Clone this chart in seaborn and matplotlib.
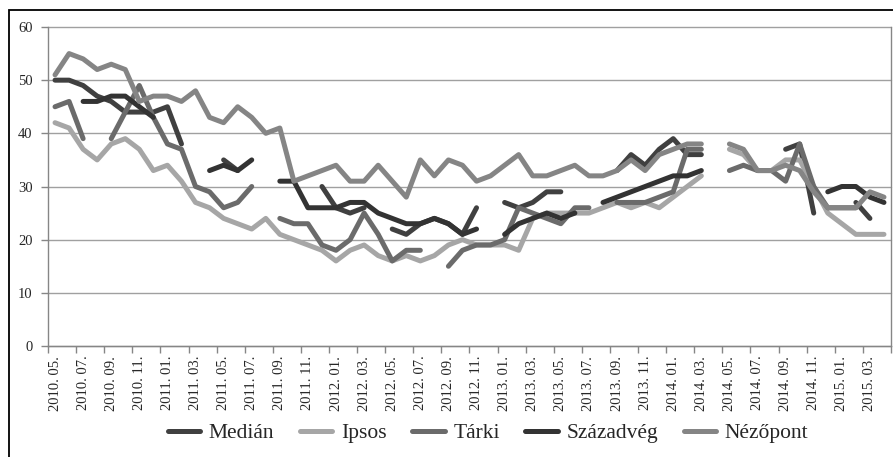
import numpy as np
import pandas as pd
import matplotlib
matplotlib.use("Agg")
import matplotlib.pyplot as plt
from matplotlib.lines import Line2D
from matplotlib.patches import Rectangle
import seaborn as sns

nan = np.nan

# monthly polls, 2010.05 .. 2015.04 (60 months), gaps = no poll
series_names = ["Medián", "Ipsos", "Tárki", "Századvég", "Nézőpont"]
series_colors = ["#404040", "#a6a6a6", "#6b6b6b", "#333333", "#858585"]

median = [50, 50, 49, 47, 46, 44, 44, 44, 45, 38,
          nan, nan, 35, 33, nan, nan, nan, nan, nan, 30,
          26, 25, 26, nan, 22, 21, 23, 24, 23, 21,
          26, nan, 27, 26, 27, 29, 29, nan, nan, nan,
          33, 36, 34, 37, 39, 36, 36, nan, nan, nan,
          nan, nan, 37, 38, 25, nan, nan, 27, 24, nan]
ipsos = [42, 41, 37, 35, 38, 39, 37, 33, 34, 31,
         27, 26, 24, 23, 22, 24, 21, 20, 19, 18,
         16, 18, 19, 17, 16, 17, 16, 17, 19, 20,
         19, 19, 19, 18, 24, 25, 25, 25, 25, 26,
         27, 26, 27, 26, 28, 30, 32, nan, 37, 36,
         33, 33, 35, 35, 30, 25, 23, 21, 21, 21]
tarki = [45, 46, 39, nan, 39, 44, 49, 43, 38, 37,
         30, 29, 26, 27, 30, nan, 24, 23, 23, 19,
         18, 20, 25, 21, 16, 18, 18, nan, 15, 18,
         19, 19, 20, 26, 25, 24, 23, 26, 26, nan,
         27, 27, 27, 28, 29, 37, 37, nan, 33, 34,
         33, 33, 31, 38, 30, 26, 26, 26, nan, nan]
szazadveg = [nan, nan, 46, 46, 47, 47, 45, 43, nan, nan,
             nan, 33, 34, 33, 35, nan, 31, 31, 26, 26,
             26, 27, 27, 25, 24, 23, 23, 24, 23, 21,
             22, nan, 21, 23, 24, 25, 24, 25, nan, 27,
             28, 29, 30, 31, 32, 32, 33, nan, nan, nan,
             nan, nan, nan, nan, nan, 29, 30, 30, 28, 27]
nezopont = [51, 55, 54, 52, 53, 52, 46, 47, 47, 46,
            48, 43, 42, 45, 43, 40, 41, 31, 32, 33,
            34, 31, 31, 34, 31, 28, 35, 32, 35, 34,
            31, 32, 34, 36, 32, 32, 33, 34, 32, 32,
            33, 35, 33, 36, 37, 38, 38, nan, 38, 37,
            33, 33, 34, 33, 29, 26, 26, 26, 29, 28]

tick_labels = ["2010. 05.", "2010. 07.", "2010. 09.", "2010. 11.",
               "2011. 01.", "2011. 03.", "2011. 05.", "2011. 07.", "2011. 09.", "2011. 11.",
               "2012. 01.", "2012. 03.", "2012. 05.", "2012. 07.", "2012. 09.", "2012. 11.",
               "2013. 01.", "2013. 03.", "2013. 05.", "2013. 07.", "2013. 09.", "2013. 11.",
               "2014. 01.", "2014. 03.", "2014. 05.", "2014. 07.", "2014. 09.", "2014. 11.",
               "2015. 01.", "2015. 03."]

# long table, one unit per unbroken stretch so gaps stay open
frames = []
for name, vals in zip(series_names, [median, ipsos, tarki, szazadveg, nezopont]):
    s = pd.Series(vals, dtype=float)
    seg = s.isna().cumsum().astype(str)
    frames.append(pd.DataFrame({"month": np.arange(len(s)), "value": s,
                                "series": name, "seg": name + "_" + seg}))
df = pd.concat(frames).dropna()

sns.set_style("white")
plt.rcParams["font.family"] = ["Liberation Serif", "DejaVu Serif"]

fig = plt.figure(figsize=(8.93, 4.57), dpi=100)
ax = fig.add_axes([48 / 893, 111 / 457, 843 / 893, 319 / 457])

grid_c = "#a0a0a0"
for v in range(0, 61, 10):
    ax.axhline(v, color=grid_c, lw=1, zorder=0, clip_on=False)

sns.lineplot(data=df, x="month", y="value", hue="series", hue_order=series_names,
             palette=series_colors, units="seg", estimator=None, linewidth=3.6,
             legend=False, ax=ax, solid_capstyle="round", solid_joinstyle="round")

ax.set_xlim(-0.5, 59.5)
ax.set_ylim(0, 60)
ax.set_xlabel("")
ax.set_ylabel("")

ax.set_yticks(range(0, 61, 10))
ax.tick_params(axis="y", length=5, width=1, color="#868686", labelsize=10.5,
               labelcolor="#262626", pad=6, left=True)
ax.set_xticks(np.arange(-0.5, 60, 2))
ax.set_xticklabels([])
ax.tick_params(axis="x", which="major", length=5, width=1, color="#868686", bottom=True)
ax.set_xticks(np.arange(0, 60, 2), minor=True)
ax.set_xticklabels(tick_labels, minor=True, rotation=90, fontsize=10.5, color="#262626")
ax.tick_params(axis="x", which="minor", length=0, pad=7)

for side in ["left", "bottom", "right"]:
    ax.spines[side].set_color("#868686")
    ax.spines[side].set_linewidth(1)
ax.spines["top"].set_visible(False)

handles = [Line2D([0], [0], color=c, lw=3.6, solid_capstyle="round") for c in series_colors]
fig.legend(handles, series_names, loc="center", bbox_to_anchor=(488 / 893, 24 / 457),
           ncol=5, frameon=False, fontsize=15.5, handlelength=1.5,
           handletextpad=0.4, columnspacing=1.2)

# outer chart frame (cropped at right and bottom)
fig.patches.append(Rectangle((9 / 893, -0.05), 1.2, 447 / 457 + 0.05,
                             transform=fig.transFigure, fill=False,
                             edgecolor="black", linewidth=1.3))

fig.savefig("out.png", dpi=100)
plt.close(fig)
